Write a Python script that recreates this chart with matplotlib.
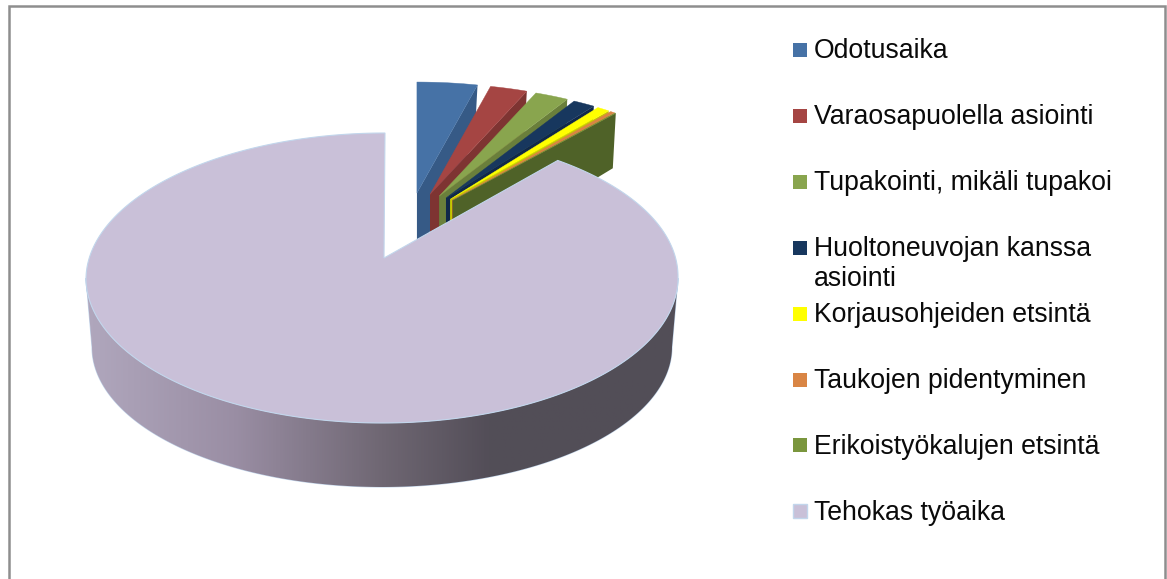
import numpy as np
import matplotlib
matplotlib.use("Agg")
import matplotlib.pyplot as plt
from matplotlib.patches import Polygon, Rectangle
from matplotlib.colors import LinearSegmentedColormap

# --- data ---
labels = ["Odotusaika", "Varaosapuolella asiointi", "Tupakointi, mikäli tupakoi",
          "Huoltoneuvojan kanssa\nasiointi", "Korjausohjeiden etsintä",
          "Taukojen pidentyminen", "Erikoistyökalujen etsintä", "Tehokas työaika"]
shares = [3.7, 2.3, 2.1, 1.4, 0.8, 0.3, 0.05, 89.35]

# --- style ---
face_colors = ["#4672A6", "#A54543", "#89A54E", "#17375E", "#FFFF00", "#D98544", "#7A963D", "#C9C0D8"]
cut_colors = ["#365A86", "#7E3432", "#6A7F3B", "#10284A", "#C8C800", "#A8652C", "#4F6228", "#8E88A0"]
side_stops = [(0.0, "#B0A7BD"), (0.25, "#9A8EA4"), (0.5, "#6F6773"), (0.68, "#534E58"), (1.0, "#524E57")]
edge_color = "#C2D6EC"

W, H = 1167, 579
fig = plt.figure(figsize=(W / 100, H / 100), dpi=100, facecolor="white")
ax = fig.add_axes([0, 0, 1, 1])
ax.axis("off")

# projection of the pie
apex = np.array([384.0, 258.0])
cx, cy, rx, ry = 382.0, 278.0, 296.0, 145.0
cy_low, rx_low, ry_low = 347.0, 290.0, 140.0
rx_back, ry_back = 263.0, 111.0
depth_apex, depth_rim = 65.0, 55.0
tilt = 3.0          # perspective lean of the rim near the 12 o'clock position
main_start_shift = 2.5  # degrees: the near slice's cut edge looks slightly steeper

angles = np.concatenate([[0], np.cumsum(shares)]) * 360.0 / sum(shares)

def rim_back(a0, t):
    t = np.radians(t)
    return np.column_stack([a0[0] + rx_back * np.sin(t), a0[1] - ry_back * np.cos(t)])

# exploded slices, back to front
for i in range(len(shares) - 1):
    t0, t1 = angles[i], angles[i + 1]
    mid = np.radians((t0 + t1) / 2)
    a0 = apex + [24.7 + 71 * np.sin(mid), -(30.2 + 35 * np.cos(mid))]
    arc = rim_back(a0, np.linspace(t0, t1, 20))
    end = arc[-1]
    cut = [a0, end, end + [-3, depth_rim], a0 + [0, depth_apex]]
    ax.add_patch(Polygon(cut, closed=True, fc=cut_colors[i], ec="none", zorder=2 + i))
    ax.add_patch(Polygon(np.vstack([a0, arc]), closed=True, fc=face_colors[i],
                         ec=face_colors[i], lw=0.3, zorder=2 + i))

# main slice: side wall with a horizontal gradient
t = np.radians(np.linspace(90, 270, 200))
upper = np.column_stack([cx + rx * np.sin(t), cy - ry * np.cos(t)])
tb = t[::-1]
lower = np.column_stack([cx + rx_low * np.sin(tb), cy_low - ry_low * np.cos(tb)])
wall = Polygon(np.vstack([upper, lower]), closed=True, fc="none", ec=edge_color, lw=0.8, zorder=19)
ax.add_patch(wall)
cmap = LinearSegmentedColormap.from_list("wall", side_stops)
im = ax.imshow(np.linspace(0, 1, 512).reshape(1, -1), cmap=cmap, aspect="auto",
               extent=(cx - rx, cx + rx, cy_low + ry_low, cy), zorder=20)
im.set_clip_path(wall)

# main slice: top face
tm = np.radians(np.linspace(angles[-2] - main_start_shift, 360, 400))
lean = tilt * np.clip(np.cos(tm), 0, None)
rim = np.column_stack([cx + rx * np.sin(tm) + lean, cy - ry * np.cos(tm)])
ax.add_patch(Polygon(np.vstack([apex, rim]), closed=True, fc=face_colors[-1],
                     ec=edge_color, lw=0.8, zorder=21))

# legend
for i, (lab, col) in enumerate(zip(labels, face_colors)):
    yc = 50 + 65.9 * i
    ax.add_patch(Rectangle((793, yc - 7), 14, 14, fc=col,
                           ec=edge_color if i == len(labels) - 1 else "none", lw=1, zorder=30))
    for j, line in enumerate(lab.split("\n")):
        ax.text(814, yc + 8.2 + 30.5 * j, line, fontsize=19.15, family="Liberation Sans",
                color="#0A0A0A", va="baseline", ha="left", zorder=30)

# chart frame: open at the bottom
ax.plot([8.5, 8.5, 1165, 1165], [H, 6, 6, H], color="#8E8E8E", lw=1.8, zorder=40,
        solid_joinstyle="miter")

ax.set_xlim(0, W)
ax.set_ylim(H, 0)
fig.savefig("out.png", dpi=100)
